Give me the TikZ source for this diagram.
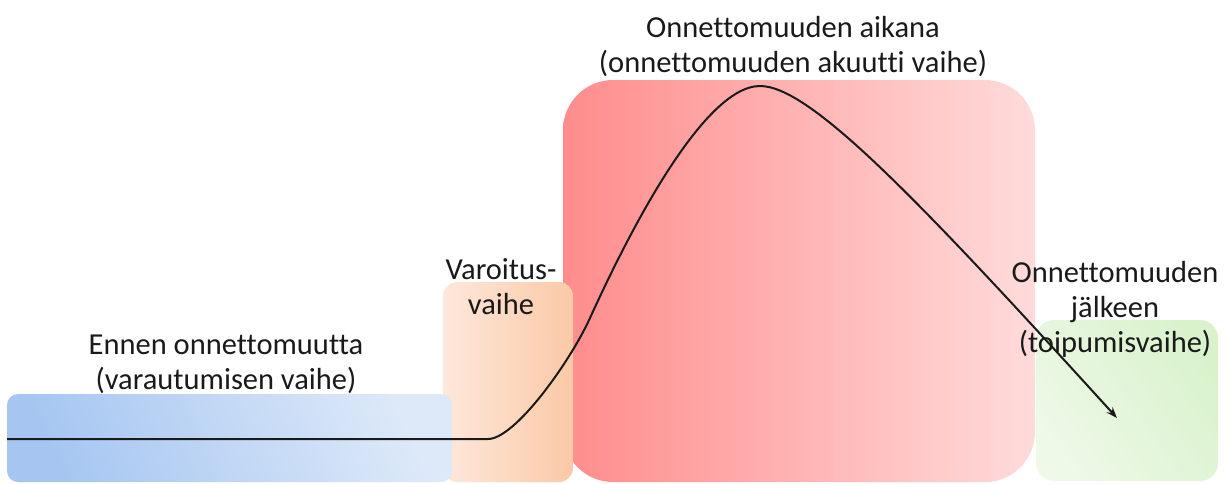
\documentclass[tikz,border=0pt]{standalone}
\usepackage{fontspec}
\setmainfont{Carlito}[Ligatures=NoCommon]
\usetikzlibrary{arrows.meta}
\definecolor{blueL}{HTML}{A6C6F1}
\definecolor{blueR}{HTML}{DDE9F9}
\definecolor{orL}{HTML}{FDE8DB}
\definecolor{orR}{HTML}{FBC9A6}
\definecolor{redL}{HTML}{FF8C8C}
\definecolor{redR}{HTML}{FFDBDB}
\definecolor{grL}{HTML}{EEF9E8}
\definecolor{grR}{HTML}{D9F2CC}
\definecolor{ink}{HTML}{1A1A1A}
\begin{document}
\begin{tikzpicture}[x=1pt,y=-1pt,
  phase/.style={rectangle, inner sep=0pt, outer sep=0pt, draw=none},
  lbl/.style={font=\fontsize{30.5}{35}\selectfont, align=center, inner sep=0pt, anchor=base, text=ink},
  curve/.style={line width=2pt, draw=ink, -{Stealth[length=11pt,width=8pt]}}]
\useasboundingbox (0,0) rectangle (1230,483);
% phases
\node[phase, minimum width=472pt, minimum height=402pt, rounded corners=50pt,
      left color=redL, right color=redR] (acute) at (799,281) {};
\node[phase, minimum width=182pt, minimum height=161pt, rounded corners=18pt,
      left color=grL, right color=grR, shading angle=125] (recovery) at (1127,400.5) {};
\node[phase, minimum width=130pt, minimum height=200pt, rounded corners=14pt,
      left color=orL, right color=orR] (warning) at (508,382) {};
\node[phase, minimum width=445pt, minimum height=88pt, rounded corners=11pt,
      left color=blueL, right color=blueR, shading angle=115] (prep) at (229.5,438) {};
% labels (anchor = baseline of the last line)
\node[lbl] (tbefore) at (226,389) {Ennen onnettomuutta\\(varautumisen vaihe)};
\node[lbl] (twarn) at (501,314) {Varoitus-\\vaihe};
\node[lbl] (tduring) at (793,72) {Onnettomuuden aikana\\(onnettomuuden akuutti vaihe)};
\node[lbl] (tafter) at (1115,352) {Onnettomuuden\\jälkeen\\(toipumisvaihe)};
% curve
\coordinate (start) at (7,439);
\coordinate (rise) at (488,439);
\coordinate (infl) at (590,318);
\coordinate (peak) at (760,86);
\coordinate (tip) at (1117,418);
\draw[curve] (start) -- (rise)
  .. controls (515,439) and (570,362) .. (infl)
  .. controls (625,241) and (702,86) .. (peak)
  .. controls (810,86) and (917,198) .. (tip);
\end{tikzpicture}
\end{document}
